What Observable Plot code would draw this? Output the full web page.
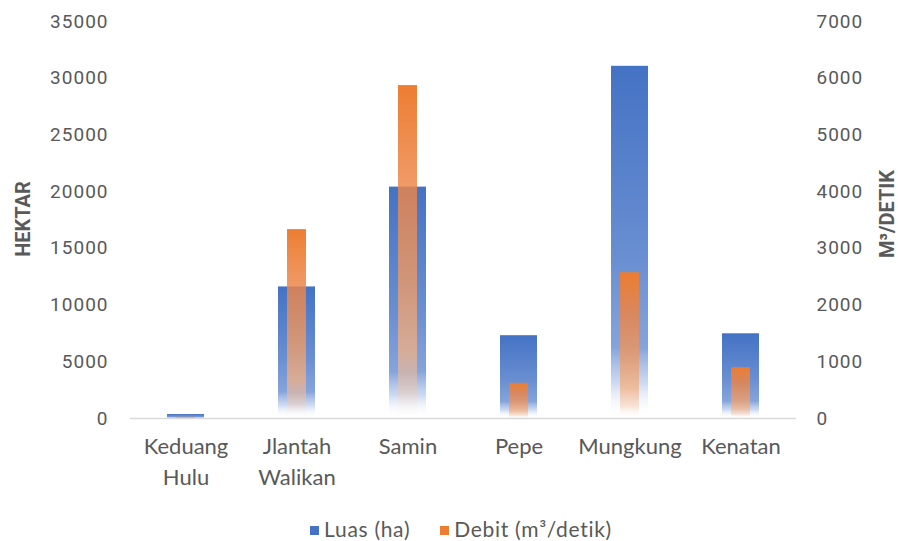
<!DOCTYPE html>
<html><head><meta charset="utf-8">
<script src="https://cdn.jsdelivr.net/npm/d3@7"></script>
<script src="https://cdn.jsdelivr.net/npm/@observablehq/plot@0.6"></script>
<style>
body{margin:0;background:#fff;width:898px;height:541px;overflow:hidden;font-family:Lato,sans-serif;position:relative}
#legend{display:flex;justify-content:center;gap:30px;font-size:21px;letter-spacing:0.7px;color:#595959;margin-top:11px;padding-left:24px}
#legend span.sw{display:inline-block;width:9px;height:9px;margin-right:5px;vertical-align:middle;position:relative;top:-1px}
.ytitle{position:absolute;font-family:Roboto,sans-serif;font-weight:bold;font-size:20px;color:#595959;transform:translate(-50%,-50%) rotate(-90deg);white-space:nowrap;line-height:1}
</style></head><body>
<div id="chart"></div>
<div id="legend">
  <div><span class="sw" style="background:#4472C4"></span>Luas (ha)</div>
  <div><span class="sw" style="background:#ED7D31"></span>Debit (m³/detik)</div>
</div>
<div class="ytitle" style="left:23px;top:219px">HEKTAR</div>
<div class="ytitle" style="left:887px;top:214px">M³/DETIK</div>
<script>
const categories = ["Keduang\nHulu", "Jlantah\nWalikan", "Samin", "Pepe", "Mungkung", "Kenatan"];
const luas = [350, 11600, 20400, 7300, 31050, 7470];
const debit = [20, 3330, 5870, 620, 2570, 895];
const leftTicks = [0, 5000, 10000, 15000, 20000, 25000, 30000, 35000];
const rightTicks = [0, 1000, 2000, 3000, 4000, 5000, 6000, 7000];
const ratio = 35000 / 7000;

const luasData = categories.map((c, i) => ({c, v: luas[i]}));
const debitData = categories.map((c, i) => ({c, v: debit[i] * ratio}));

const plot = Plot.plot({
  width: 898, height: 505,
  marginTop: 21, marginBottom: 87, marginLeft: 130, marginRight: 102,
  style: {fontFamily: "Lato, sans-serif", color: "#595959", background: "white"},
  x: {domain: categories, paddingInner: 0.667, paddingOuter: 0.333, label: null},
  y: {domain: [0, 35000], label: null},
  marks: [
    Plot.barY(luasData, {x: "c", y: "v", fill: "url(#gBlue)"}),
    Plot.barY(debitData, {x: "c", y: "v", fill: "url(#gOrange)", insetLeft: 9, insetRight: 9}),
    Plot.ruleY([0], {stroke: "#d9d9d9", strokeWidth: 1.3}),
    Plot.axisX({tickSize: 0, tickPadding: 14, fontSize: 22, lineHeight: 1.4, fill: "#595959", label: null}),
    Plot.axisY(leftTicks, {anchor: "left", tickSize: 0, tickPadding: 22, fontSize: 19, fill: "#595959", tickFormat: d => String(d), label: null}),
    Plot.axisY(rightTicks.map(d => d * ratio), {anchor: "right", tickSize: 0, tickPadding: 20, fontSize: 19, fill: "#595959", tickFormat: d => String(d / ratio), label: null})
  ]
});

const svg = d3.select(plot);
svg.selectAll('g[aria-label="y-axis tick label"] text').style("font-family", "Roboto, sans-serif").style("letter-spacing", "1px");
const defs = svg.insert("defs", ":first-child");
const gb = defs.append("linearGradient").attr("id", "gBlue").attr("x1", 0).attr("y1", 0).attr("x2", 0).attr("y2", 1);
[[0, "#4472C4", 1], [0.55, "#6a8fd2", 1], [0.8, "#7f9fda", 0.95], [0.9, "#a9bfe8", 0.6], [1, "#ffffff", 0]].forEach(([o, c, a]) =>
  gb.append("stop").attr("offset", o).attr("stop-color", c).attr("stop-opacity", a));
const go = defs.append("linearGradient").attr("id", "gOrange").attr("x1", 0).attr("y1", 0).attr("x2", 0).attr("y2", 1);
[[0, "#ED7D31", 1], [0.3, "#ec8446", 0.82], [0.6, "#f09a63", 0.78], [0.8, "#f4b183", 0.75], [0.92, "#f6c6a4", 0.45], [1, "#ffffff", 0]].forEach(([o, c, a]) =>
  go.append("stop").attr("offset", o).attr("stop-color", c).attr("stop-opacity", a));

document.getElementById("chart").append(plot);
</script>
</body></html>
